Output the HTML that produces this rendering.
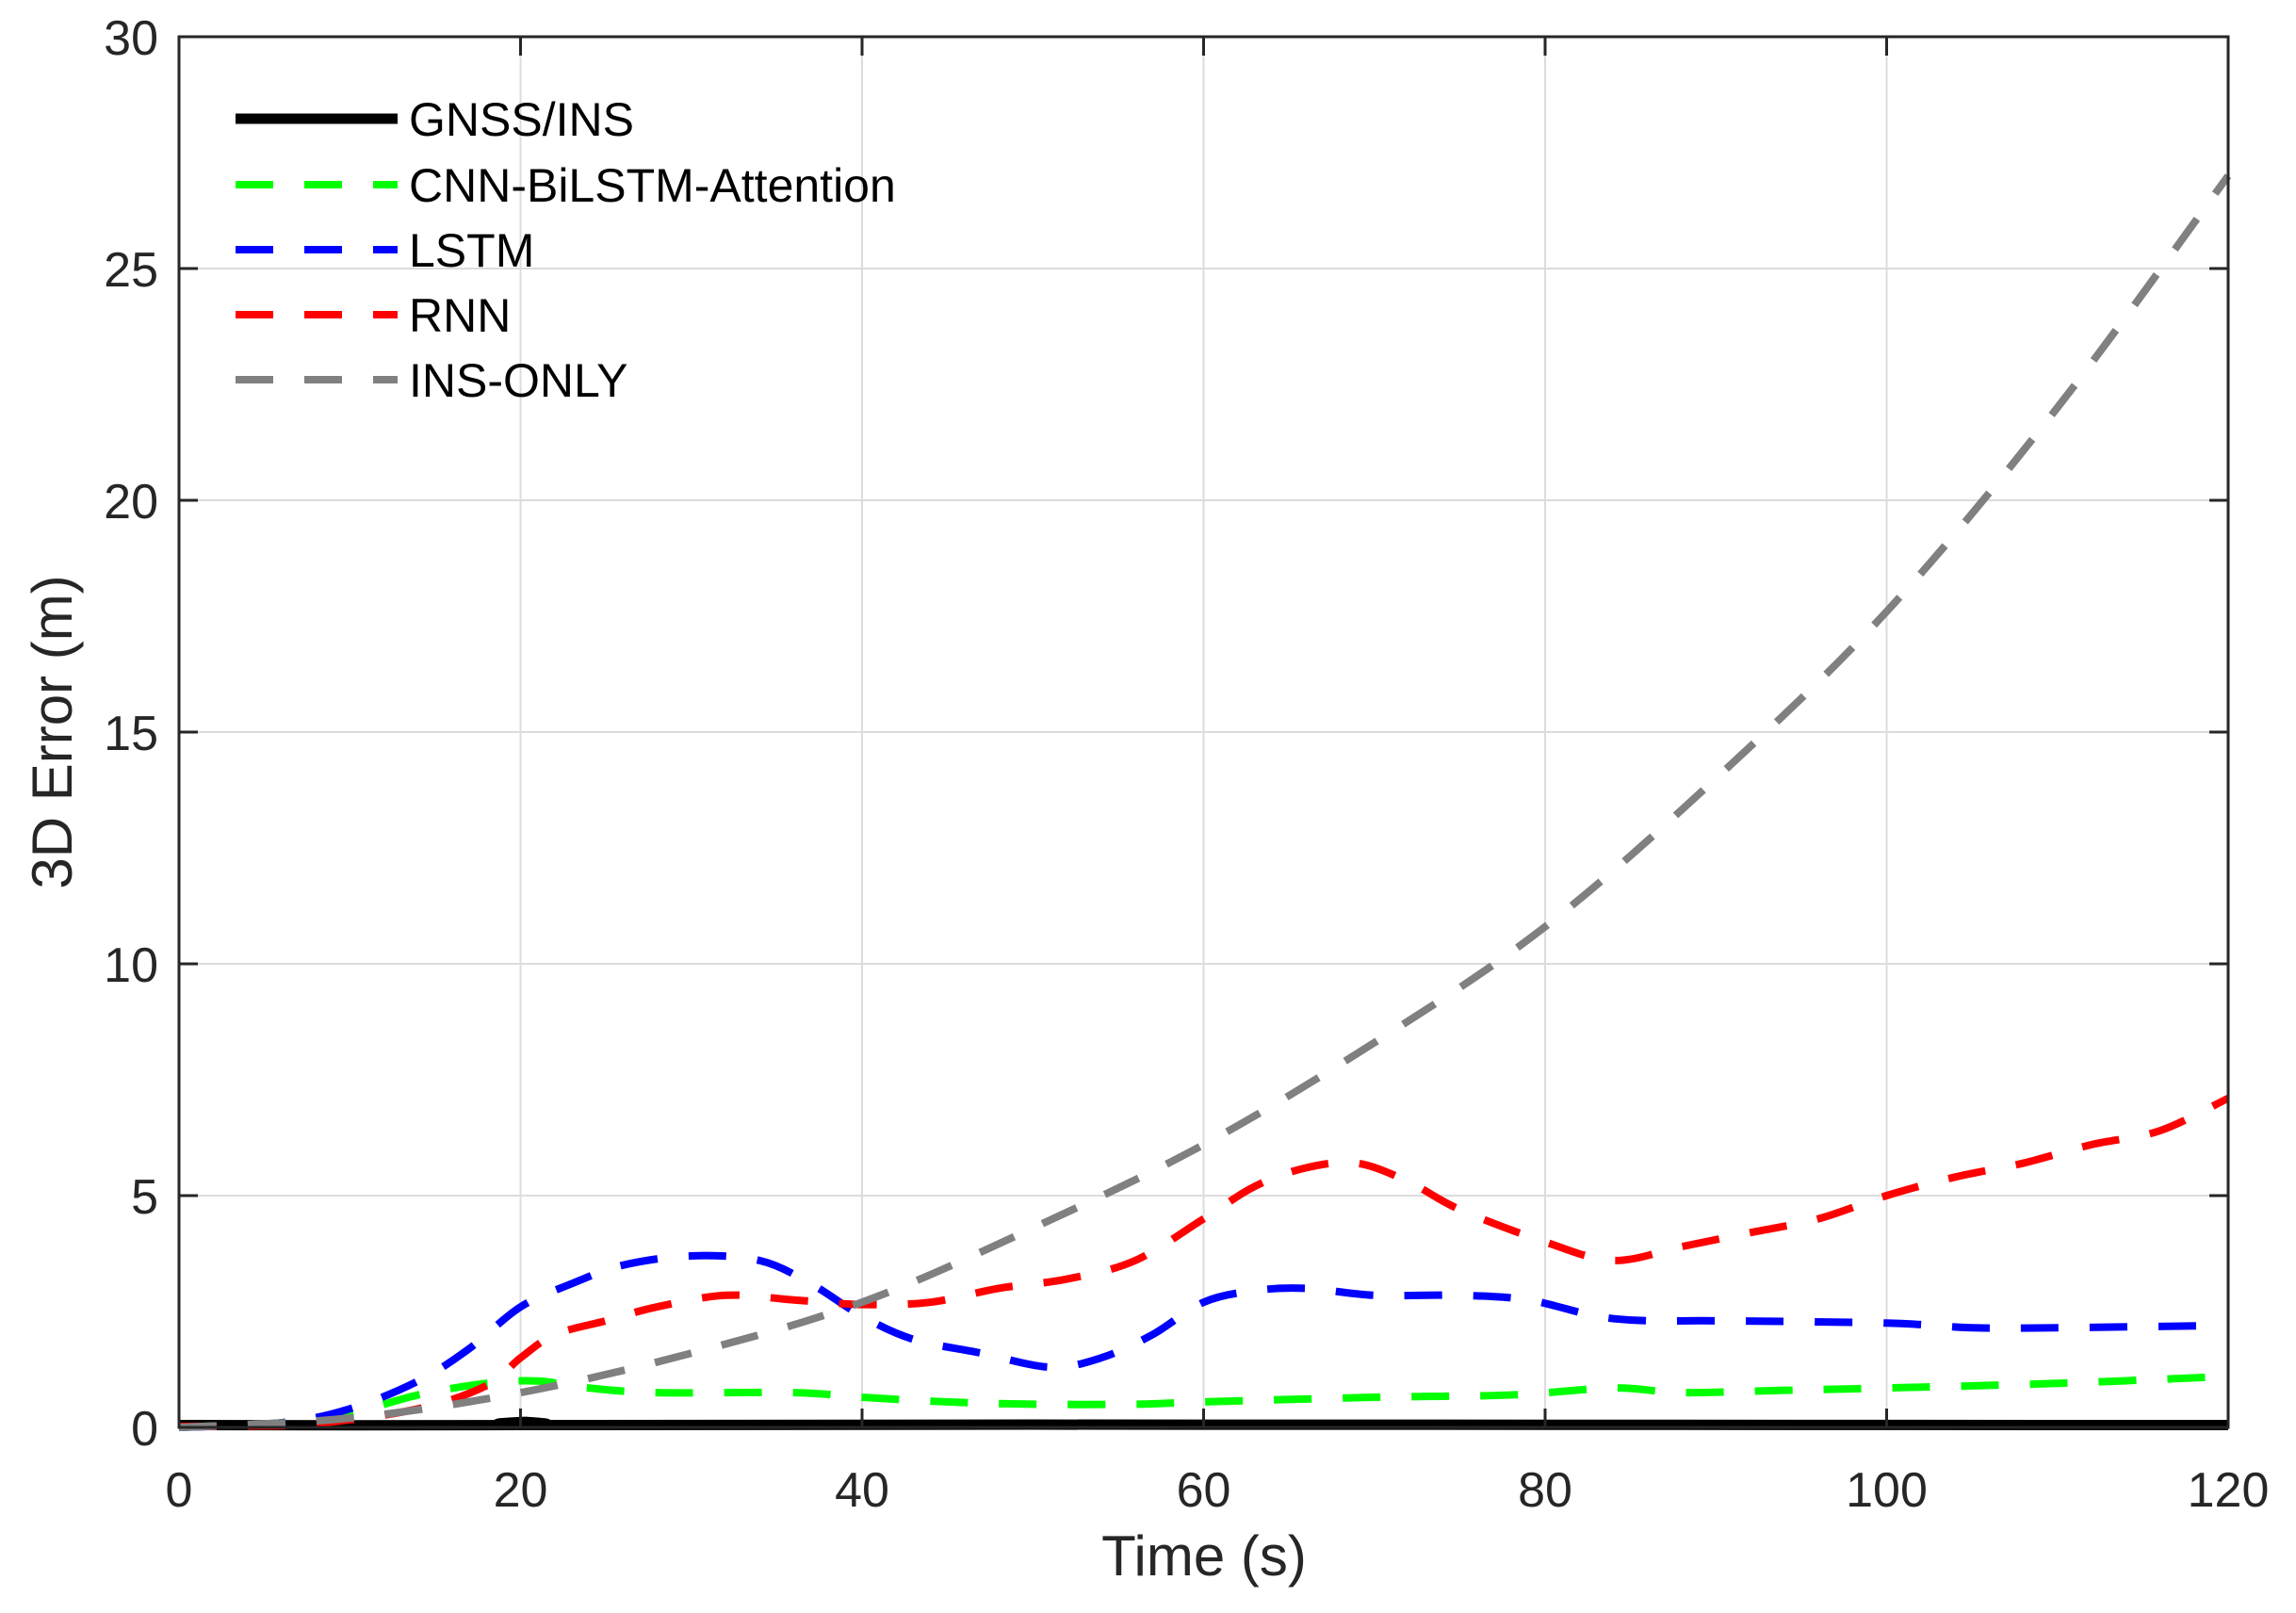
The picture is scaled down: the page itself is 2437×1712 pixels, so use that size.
<!DOCTYPE html>
<html><head><meta charset="utf-8"><style>
html,body{margin:0;padding:0;background:#fff}
svg{display:block}
text{font-family:"Liberation Sans",sans-serif;fill:#262626}
</style></head><body>
<svg id="s" width="2437" height="1712" viewBox="0 0 2437 1712" xmlns="http://www.w3.org/2000/svg">
<rect width="2437" height="1712" fill="#fff"/>
<g id="grid" stroke="#dcdcdc" stroke-width="2"></g>
<g id="series" fill="none"></g>
<rect x="190" y="39" width="2175" height="1476" fill="none" stroke="#262626" stroke-width="3"/>
<g id="ticks" stroke="#262626" stroke-width="3"></g>
<g id="labels" font-size="52"></g>
<text x="1278" y="1672" font-size="60" text-anchor="middle">Time (s)</text>
<text transform="translate(76,777) rotate(-90)" font-size="60" text-anchor="middle">3D Error (m)</text>
<g>
<line x1="250" y1="126" x2="422" y2="126" stroke="#000" stroke-width="11"/>
<line x1="250" y1="196" x2="422" y2="196" stroke="#00ff00" stroke-width="8" stroke-dasharray="40 33"/>
<line x1="250" y1="265" x2="422" y2="265" stroke="#0000ff" stroke-width="8" stroke-dasharray="40 33"/>
<line x1="250" y1="334" x2="422" y2="334" stroke="#ff0000" stroke-width="8" stroke-dasharray="40 33"/>
<line x1="250" y1="403" x2="422" y2="403" stroke="#808080" stroke-width="8" stroke-dasharray="40 33"/>
<text x="434" y="144" font-size="50" style="fill:#000">GNSS/INS</text>
<text x="434" y="214" font-size="50" style="fill:#000">CNN-BiLSTM-Attention</text>
<text x="434" y="283" font-size="50" style="fill:#000">LSTM</text>
<text x="434" y="352" font-size="50" style="fill:#000">RNN</text>
<text x="434" y="421" font-size="50" style="fill:#000">INS-ONLY</text>
</g>
</svg>
<script>
var X0=190,X1=2365,Y0=1515,Y30=39;
function px(t){return X0+(X1-X0)*t/120}
function py(v){return Y0-(Y0-Y30)*v/30}
var NS="http://www.w3.org/2000/svg";
function el(p,n,a,txt){var e=document.createElementNS(NS,n);for(var k in a)e.setAttribute(k,a[k]);if(txt!=null)e.textContent=txt;p.appendChild(e);return e}
var g=document.getElementById('grid'),tk=document.getElementById('ticks'),lb=document.getElementById('labels');
for(var t=0;t<=120;t+=20){var x=px(t);
 if(t>0&&t<120)el(g,'line',{x1:x,y1:Y30,x2:x,y2:Y0});
 el(tk,'line',{x1:x,y1:Y0,x2:x,y2:Y0-20});el(tk,'line',{x1:x,y1:Y30,x2:x,y2:Y30+20});
 el(lb,'text',{x:x,y:1599,'text-anchor':'middle'},String(t));}
for(var v=0;v<=30;v+=5){var y=py(v);
 if(v>0&&v<30)el(g,'line',{x1:X0,y1:y,x2:X1,y2:y});
 el(tk,'line',{x1:X0,y1:y,x2:X0+20,y2:y});el(tk,'line',{x1:X1,y1:y,x2:X1-20,y2:y});
 el(lb,'text',{x:168,y:y+19,'text-anchor':'end'},String(v));}
function path(pts){var P=pts.map(function(p){return [px(p[0]),py(p[1])]});
 var d='M'+P[0][0]+','+P[0][1];
 for(var i=0;i<P.length-1;i++){var p0=P[i-1]||P[i],p1=P[i],p2=P[i+1],p3=P[i+2]||p2;
  d+=' C'+(p1[0]+(p2[0]-p0[0])/6)+','+(p1[1]+(p2[1]-p0[1])/6)+' '+(p2[0]-(p3[0]-p1[0])/6)+','+(p2[1]-(p3[1]-p1[1])/6)+' '+p2[0]+','+p2[1];}
 return d;}
var S=document.getElementById('series');
var grey=[[0,0],[10,0.2],[20,0.75],[30,1.6],[40,2.7],[50,4.3],[60,6.1],[70,8.3],[80,10.8],[90,14],[100,17.6],[110,22],[120,27]];
var red=[[0,0.02],[4,0.03],[8,0.08],[14,0.4],[18,0.9],[20,1.5],[22,2.0],[25,2.3],[28,2.6],[32,2.85],[36,2.75],[40,2.65],[44,2.7],[48,3.0],[52,3.2],[56,3.6],[60,4.5],[63,5.2],[66,5.6],[69,5.7],[72,5.3],[75,4.7],[80,4.0],[84,3.6],[88,3.9],[92,4.2],[96,4.5],[100,5.0],[104,5.4],[108,5.7],[112,6.1],[116,6.4],[120,7.1]];
var blue=[[0,0],[6,0.1],[10,0.4],[14,1.0],[17,1.7],[20,2.6],[23,3.1],[26,3.5],[30,3.7],[34,3.6],[37,3.1],[40,2.4],[43,1.9],[47,1.6],[51,1.3],[54,1.5],[57,2.0],[60,2.7],[63,2.95],[66,3.0],[70,2.85],[75,2.85],[79,2.75],[83,2.4],[86,2.3],[90,2.3],[100,2.25],[105,2.15],[110,2.15],[120,2.2]];
var green=[[0,0],[6,0.1],[10,0.3],[14,0.7],[18,0.95],[21,1.0],[24,0.85],[28,0.75],[36,0.75],[40,0.65],[45,0.55],[50,0.5],[56,0.5],[60,0.55],[70,0.65],[78,0.7],[84,0.85],[88,0.75],[94,0.8],[100,0.85],[110,0.95],[120,1.1]];
var black=[[0,0.05],[20,0.05],[20.3,0.12],[21,0.05],[50,0.06],[120,0.05]];
el(S,'path',{d:path(black),stroke:'#000','stroke-width':11,'stroke-linejoin':'round'});
el(S,'path',{d:path(green),stroke:'#00ff00','stroke-width':8,'stroke-dasharray':'40 33'});
el(S,'path',{d:path(blue),stroke:'#0000ff','stroke-width':8,'stroke-dasharray':'40 33'});
el(S,'path',{d:path(red),stroke:'#ff0000','stroke-width':8,'stroke-dasharray':'40 33'});
el(S,'path',{d:path(grey),stroke:'#808080','stroke-width':8,'stroke-dasharray':'40 33'});
</script>
</body></html>
